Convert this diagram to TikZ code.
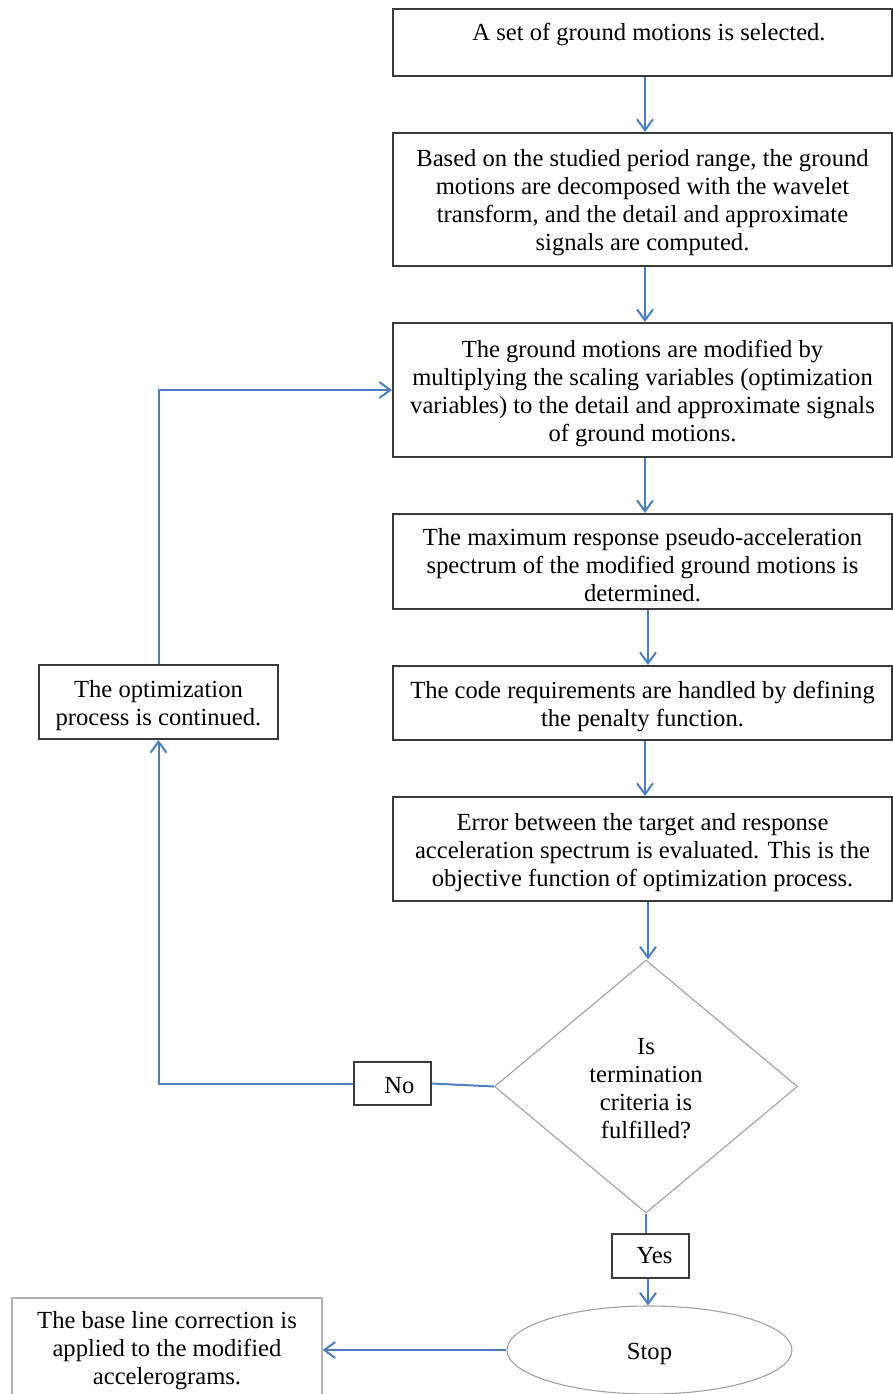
\documentclass[tikz,border=0pt]{standalone}
\usepackage{fontspec}
\setmainfont{Liberation Serif}
\usetikzlibrary{arrows.meta,shapes.geometric}
\definecolor{arrblue}{RGB}{74,126,193}
\definecolor{boxgray}{RGB}{58,58,58}
\definecolor{ltgray}{RGB}{160,160,160}
\newcommand\fstrut{\rule{0pt}{24pt}}
\tikzset{
  x=1pt, y=-1pt,
  txt/.style={font=\fontsize{24.6pt}{28pt}\selectfont, align=center, inner sep=0pt},
  box/.style={txt, draw=boxgray, line width=2pt, minimum width=499pt},
  smallbox/.style={txt, draw=boxgray, line width=1.6pt, minimum width=77pt, minimum height=43pt},
  dia/.style={txt, draw=ltgray, line width=1.1pt, diamond, aspect=1.2, minimum width=303pt, minimum height=253pt},
  term/.style={txt, draw=ltgray, line width=1.1pt, ellipse, minimum width=285pt, minimum height=88pt},
  lightbox/.style={txt, draw=ltgray!80, line width=1.2pt, minimum width=310pt, minimum height=98pt},
  arr/.style={draw=arrblue, line width=2pt, -{Straight Barb[length=11pt,width=16pt,line width=2pt]}},
  conn/.style={draw=arrblue, line width=2pt}
}
\begin{document}
\begin{tikzpicture}
\useasboundingbox (0,0) rectangle (892,1394);
% main boxes
\node[box, minimum height=67pt] (b1) at (642.5,42.5) {};
\node[txt] (t1) at (649,31.5) {\fstrut A set of ground motions is selected.};
\node[box, minimum height=133pt] (b2) at (642.5,199.5) {\fstrut Based on the studied period range, the ground\\motions are decomposed with the wavelet\\transform, and the detail and approximate\\signals are computed.};
\node[box, minimum height=134pt] (b3) at (642.5,390) {\fstrut The ground motions are modified by\\multiplying the scaling variables (optimization\\variables) to the detail and approximate signals\\of ground motions.};
\node[box, minimum height=95pt] (b4) at (642.5,561.5) {\fstrut The maximum response pseudo-acceleration\\spectrum of the modified ground motions is\\determined.};
\node[box, minimum height=74pt] (b5) at (642.5,703) {\fstrut The code requirements are handled by defining\\the penalty function.};
\node[box, minimum height=104pt] (b6) at (642.5,849) {\fstrut Error between the target and response\\acceleration spectrum is evaluated. This is the\\objective function of optimization process.};
% decision
\node[dia] (dia) at (646,1086.5) {\rule{0pt}{21pt}Is\\termination\\criteria is\\fulfilled?};
\node[smallbox] (no) at (392.5,1083.5) {\hspace*{14pt}\rule{0pt}{20pt}No};
\node[smallbox, minimum height=44pt] (yes) at (650.5,1256) {\hspace*{8pt}Yes};
\node[box, minimum width=239pt, minimum height=74pt] (opt) at (158.5,702) {\fstrut The optimization\\process is continued.};
\node[term] (stop) at (649.5,1350) {\fstrut Stop};
\node[lightbox] (bl) at (167,1347) {\fstrut The base line correction is\\applied to the modified\\accelerograms.};
% connectors
\draw[arr] ([xshift=2.5pt]b1.south) -- ([xshift=2.5pt]b2.north);
\draw[arr] ([xshift=2.5pt]b2.south) -- ([xshift=2.5pt]b3.north);
\draw[arr] ([xshift=2.5pt]b3.south) -- ([xshift=2.5pt]b4.north);
\draw[arr] ([xshift=5.5pt]b4.south) -- ([xshift=5.5pt]b5.north);
\draw[arr] ([xshift=2.5pt]b5.south) -- ([xshift=2.5pt]b6.north);
\draw[arr] ([xshift=5.5pt]b6.south) -- ([xshift=5.5pt]b6.south |- dia.north);
\draw[conn] (dia.west) -- (no.east);
\draw[arr] (no.west) -- (no.west -| opt.south) -- (opt.south);
\draw[arr] (opt.north) -- (opt.north |- b3.west) -- (b3.west);
\draw[conn] (dia.south) -- (dia.south |- yes.north);
\draw[arr] ([xshift=-2.5pt]yes.south) -- ([xshift=-2.5pt]yes.south |- stop.north);
\draw[arr] (stop.west) -- (stop.west -| bl.east);
\end{tikzpicture}
\end{document}
